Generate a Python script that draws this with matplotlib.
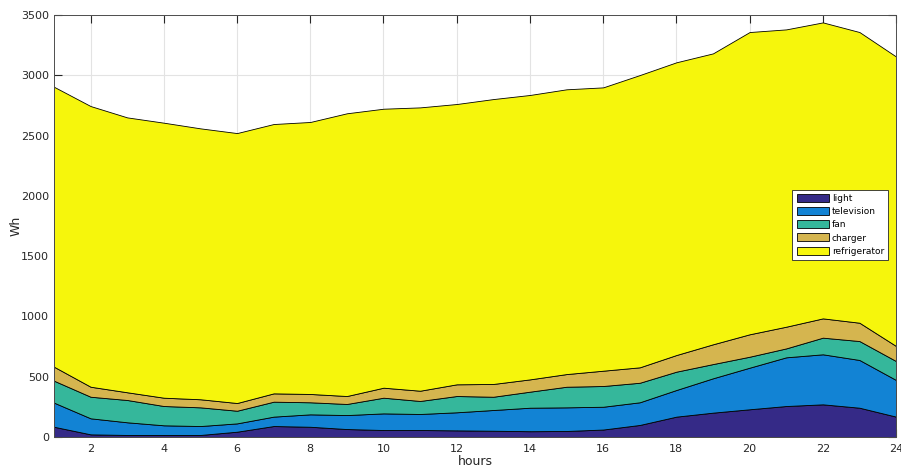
import matplotlib.pyplot as plt
import numpy as np

# hourly energy use per appliance (Wh)
hours = np.arange(1, 25)
light = [85, 22, 17, 17, 17, 44, 91, 85, 66, 58, 58, 55, 52, 48, 50, 62, 100, 169, 202, 230, 257, 271, 243, 169]
television = [200, 133, 105, 80, 74, 69, 78, 103, 116, 138, 133, 150, 172, 195, 196, 189, 188, 221, 285, 345, 404, 415, 396, 304]
fan = [182, 179, 185, 160, 155, 105, 124, 100, 92, 130, 108, 135, 110, 133, 171, 172, 162, 152, 118, 91, 74, 138, 157, 157]
charger = [116, 83, 64, 69, 67, 64, 69, 69, 66, 83, 85, 97, 106, 102, 105, 127, 128, 138, 164, 186, 180, 160, 152, 125]
refrigerator = [2322, 2328, 2280, 2281, 2247, 2239, 2234, 2256, 2345, 2314, 2350, 2325, 2363, 2359, 2362, 2350,
                2424, 2428, 2413, 2507, 2466, 2455, 2411, 2401]
labels = ["light", "television", "fan", "charger", "refrigerator"]
colors = ["#352a87", "#1283d4", "#35b79b", "#d5b54f", "#f6f60c"]

fig = plt.figure(figsize=(9.01, 4.70), dpi=100)
ax = fig.add_axes([0.0599, 0.0702, 0.9346, 0.8978])

ax.stackplot(hours, light, television, fan, charger, refrigerator,
             labels=labels, colors=colors, edgecolor="black", linewidth=0.6)

ax.set_xlim(1, 24)
ax.set_ylim(0, 3500)
ax.set_xticks(np.arange(2, 25, 2))
ax.set_yticks(np.arange(0, 3501, 500))
ax.grid(True, color="#e3e3e3", linewidth=0.8)
ax.set_axisbelow(True)
ax.tick_params(direction="in", top=True, right=True, labelsize=8, colors="#262626", length=6)
ax.tick_params(axis="x", pad=5)
for s in ax.spines.values():
    s.set_color("#4d4d4d")
    s.set_linewidth(0.7)

ax.set_xlabel("hours", fontsize=9, color="#262626", labelpad=1)
ax.set_ylabel("Wh", fontsize=9, color="#262626", labelpad=-1)

leg = ax.legend(loc="upper left", bbox_to_anchor=(0.877, 0.586), fontsize=6.5, fancybox=False,
                framealpha=1, edgecolor="#262626", handlelength=3.6, handleheight=1.0,
                labelspacing=0.45, borderpad=0.45, handletextpad=0.3, borderaxespad=0)
leg.get_frame().set_linewidth(0.6)

plt.savefig("out.png", dpi=100)
